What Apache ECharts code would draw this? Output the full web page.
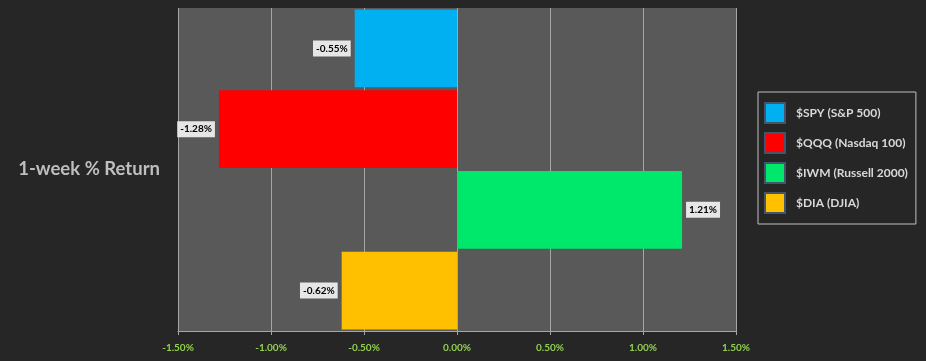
<!DOCTYPE html>
<html><head><meta charset="utf-8">
<script src="https://cdn.jsdelivr.net/npm/echarts@6/dist/echarts.min.js"></script>
<style>html,body{margin:0;padding:0;background:#262626;}#c{width:926px;height:361px;}</style>
</head><body><div id="c"></div>
<script>
const categories = ['1-week % Return'];
const seriesNames = ['$SPY (S&P 500)', '$QQQ (Nasdaq 100)', '$IWM (Russell 2000)', '$DIA (DJIA)'];
const seriesValues = [-0.55, -1.28, 1.21, -0.62];
const seriesColors = ['#00b0f0', '#ff0000', '#00e86c', '#ffc000'];
const xTicks = { min: -1.5, max: 1.5, interval: 0.5 };

const chart = echarts.init(document.getElementById('c'));
const font = 'Lato, "Open Sans", sans-serif';
chart.setOption({
  backgroundColor: '#262626',
  animation: false,
  grid: { left: 178, right: 190, top: 8, bottom: 30, show: true, backgroundColor: '#595959', borderWidth: 0 },
  xAxis: {
    type: 'value', min: xTicks.min, max: xTicks.max, interval: xTicks.interval,
    axisLine: { show: true, lineStyle: { color: '#a6a6a6', width: 1 } },
    axisTick: { show: true, length: 4, lineStyle: { color: '#a6a6a6' } },
    splitLine: { show: true, lineStyle: { color: '#a6a6a6', width: 1 } },
    axisLabel: { color: '#92d050', fontWeight: 'bold', fontSize: 10, fontFamily: font, margin: 12,
      formatter: v => v.toFixed(2) + '%' }
  },
  yAxis: {
    type: 'category', data: categories, inverse: true,
    axisLine: { show: false }, axisTick: { show: false },
    axisLabel: { color: '#bfbfbf', fontWeight: 'bold', fontSize: 18.5, fontFamily: font, margin: 18, padding: [4, 0, 0, 0] }
  },
  legend: {
    orient: 'vertical', left: 758, top: 92,
    padding: [10, 8, 10, 6],
    borderColor: '#bfbfbf', borderWidth: 1,
    itemWidth: 20, itemHeight: 20, itemGap: 8,
    icon: 'rect',
    itemStyle: { borderColor: '#44546a', borderWidth: 2 },
    textStyle: { color: '#d9d9d9', fontWeight: 'bold', fontSize: 12, fontFamily: font, padding: [0, 0, 0, 6] },
    data: seriesNames
  },
  series: seriesNames.map((n, i) => ({
    name: n, type: 'bar',
    data: [seriesValues[i]],
    barGap: '4%', barCategoryGap: '1%',
    itemStyle: { color: seriesColors[i] },
    label: {
      show: true,
      position: seriesValues[i] < 0 ? 'left' : 'right',
      distance: 4,
      formatter: p => p.value.toFixed(2) + '%',
      color: '#000', fontWeight: 'bold', fontSize: 10, fontFamily: font,
      backgroundColor: '#e6e6e6', padding: [3, 3, 3, 3]
    }
  }))
});
</script></body></html>
